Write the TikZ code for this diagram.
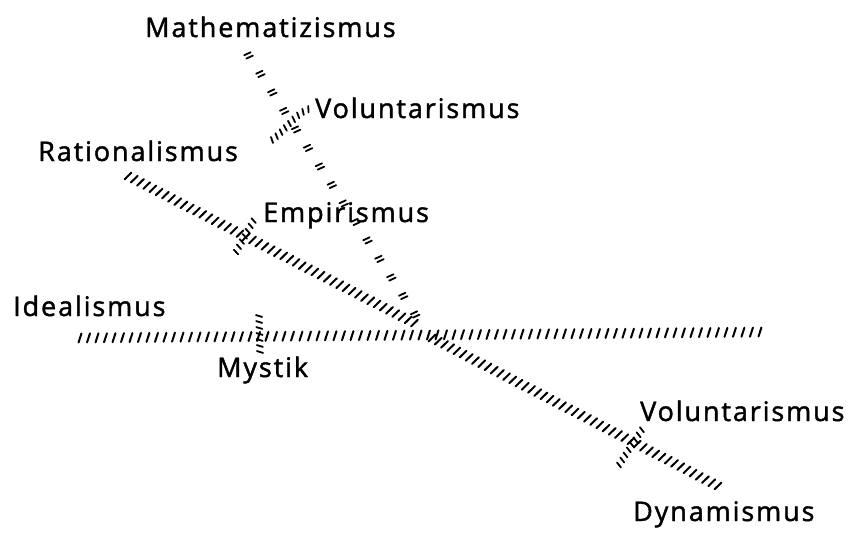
\documentclass[tikz,border=0pt]{standalone}
\usepackage{fontspec}
\newfontfamily\handfont[LetterSpace=7,FakeBold=1.5]{Open Sans}
\usetikzlibrary{decorations.markings}
\tikzset{
  lab/.style={font=\handfont\fontsize{27}{30}\selectfont, inner sep=0pt, anchor=base west},
  hatchline/.style={decoration={markings, mark=between positions 0 and 1 step #1 with
      {\draw[line width=2pt, line cap=round] (-1.5pt,-4.5pt) -- (1.5pt,4.5pt);}}, decorate},
  pairline/.style={decoration={markings, mark=between positions 0.02 and 1 step #1 with
      {\draw[line width=1.8pt, line cap=round] (-2.5pt,-3.5pt) -- (-1.5pt,3.5pt);
       \draw[line width=1.8pt, line cap=round] (1.5pt,-3.5pt) -- (2.5pt,3.5pt);}}, decorate},
  tickline/.style={decoration={markings, mark=between positions 0 and 1 step 6pt with
      {\draw[line width=1.8pt, line cap=round] (-1pt,-3pt) -- (1pt,3pt);}}, decorate},
}
\begin{document}
\begin{tikzpicture}[x=1pt,y=-1pt]
\useasboundingbox (0,0) rectangle (867,536);
% labels
\node[lab] (math) at (145,37) {Mathematizismus};
\node[lab] (volA) at (315,118) {Voluntarismus};
\node[lab] (rat)  at (38,161) {Rationalismus};
\node[lab] (emp)  at (263,222) {Empirismus};
\node[lab] (ideal) at (13,316) {Idealismus};
\node[lab] (myst) at (217,377) {Mystik};
\node[lab] (volB) at (640,421) {Voluntarismus};
\node[lab] (dyn)  at (633,521) {Dynamismus};
% line endpoints
\coordinate (hL) at (80,338);
\coordinate (hR) at (767,332);
\coordinate (rS) at (128,176);
\coordinate (rE) at (418,325);
\coordinate (mS) at (245,50);
\coordinate (mE) at (420,322);
\coordinate (dS) at (432,338);
\coordinate (dE) at (720,487);
% tick ends
\coordinate (tA1) at (272,140);
\coordinate (tA2) at (312,108);
\coordinate (tB1) at (236,252);
\coordinate (tB2) at (255,218);
\coordinate (tC1) at (259,316);
\coordinate (tC2) at (260,352);
\coordinate (tD1) at (619,465);
\coordinate (tD2) at (645,425);
% main hatched lines
\path[hatchline=8.5pt] (hL) -- (hR);
\path[hatchline=7pt] (rS) -- (rE);
\path[pairline=22pt] (mS) -- (mE);
\path[hatchline=7pt] (dS) -- (dE);
% ticks
\path[tickline] (tA1) .. controls (288,128) and (296,112) .. (tA2);
\path[tickline] (tB1) -- (tB2);
\path[tickline] (tC1) -- (tC2);
\path[tickline] (tD1) -- (tD2);
\end{tikzpicture}
\end{document}
